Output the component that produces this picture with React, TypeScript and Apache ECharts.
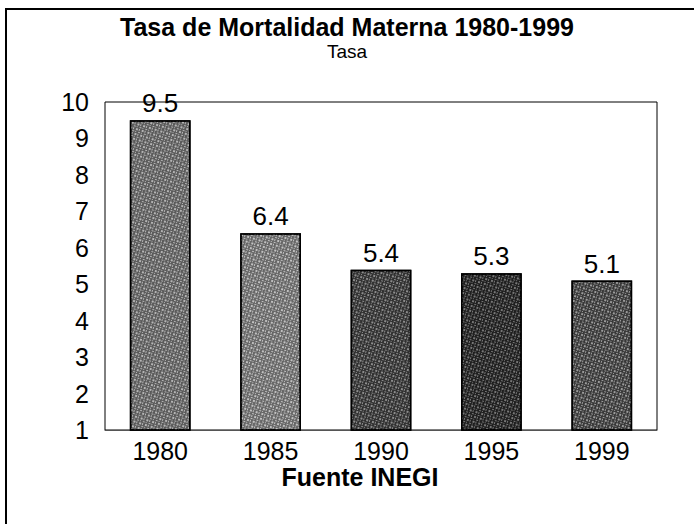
import React, { useEffect, useRef } from "react";
import * as echarts from "echarts";

const categories = ["1980", "1985", "1990", "1995", "1999"];
const values = [9.5, 6.4, 5.4, 5.3, 5.1];
const barColors = ["#5a5a5a", "#666666", "#303030", "#1e1e1e", "#383838"];
const speckle = ["rgba(255,255,255,0.55)", "rgba(255,255,255,0.6)", "rgba(255,255,255,0.45)", "rgba(255,255,255,0.4)", "rgba(255,255,255,0.5)"];
const titleText = "Tasa de Mortalidad Materna 1980-1999";
const subtitleText = "Tasa";
const xAxisTitle = "Fuente INEGI";

export default function App() {
  const ref = useRef<HTMLDivElement>(null);
  useEffect(() => {
    if (!ref.current) return;
    const chart = echarts.init(ref.current, null, { renderer: "svg" });
    const font = "'Liberation Sans', Arial, sans-serif";
    chart.setOption({
      animation: false,
      backgroundColor: "#ffffff",
      textStyle: { fontFamily: font },
      title: {
        text: titleText,
        subtext: subtitleText,
        left: "center",
        top: 9,
        itemGap: 3,
        textStyle: { fontFamily: font, fontSize: 25, fontWeight: "bold", color: "#000" },
        subtextStyle: { fontFamily: font, fontSize: 19, color: "#000" },
      },
      graphic: [
        {
          type: "line",
          shape: { x1: 5, y1: 9, x2: 694, y2: 9 },
          style: { stroke: "#000", lineWidth: 2 },
          silent: true,
        },
        {
          type: "line",
          shape: { x1: 6, y1: 8, x2: 6, y2: 524 },
          style: { stroke: "#000", lineWidth: 2 },
          silent: true,
        },
        {
          type: "text",
          x: 360,
          y: 477,
          style: {
            text: xAxisTitle,
            fontFamily: font,
            fontSize: 25,
            lineHeight: 25,
            fontWeight: "bold",
            fill: "#000",
            textAlign: "center",
            textVerticalAlign: "middle",
          },
          silent: true,
        },
      ],
      grid: {
        left: 105,
        right: 37,
        top: 102,
        bottom: 94,
        show: true,
        borderColor: "#000",
        borderWidth: 1,
        containLabel: false,
      },
      xAxis: {
        type: "category",
        data: categories,
        axisLine: { show: true, lineStyle: { color: "#555", width: 1 } },
        axisTick: { show: false },
        axisLabel: { fontFamily: font, fontSize: 25, lineHeight: 25, color: "#000", margin: 8 },
      },
      yAxis: {
        type: "value",
        min: 1,
        max: 10,
        interval: 1,
        axisLine: { show: false },
        axisTick: { show: false },
        splitLine: { show: false },
        axisLabel: { fontFamily: font, fontSize: 25, color: "#000", margin: 16 },
      },
      series: [
        {
          type: "bar",
          barWidth: "55%",
          data: values.map((v, i) => ({
            value: v,
            itemStyle: {
              color: barColors[i],
              borderColor: "#000",
              borderWidth: 1.5,
              decal: {
                symbol: "rect",
                symbolSize: 1,
                color: speckle[i],
                dashArrayX: [[1, 2, 2, 1], [2, 1, 1, 2]],
                dashArrayY: [1, 1, 2, 1],
                rotation: 0.3,
              },
            },
          })),
          label: {
            show: true,
            position: "top",
            distance: 4,
            fontFamily: font,
            fontSize: 26,
            color: "#000",
          },
        },
      ],
    });
    return () => chart.dispose();
  }, []);
  return (
    <div
      ref={ref}
      style={{ position: "absolute", left: 0, top: 0, width: 694, height: 524 }}
    />
  );
}
